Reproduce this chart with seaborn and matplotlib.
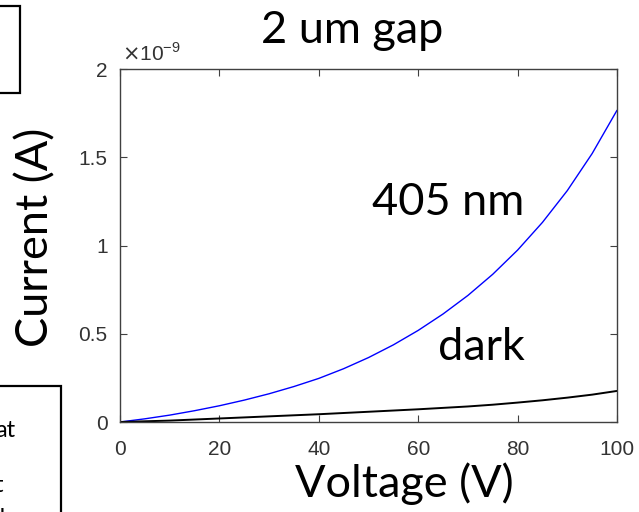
import numpy as np
import pandas as pd
import matplotlib
matplotlib.use("Agg")
import matplotlib.pyplot as plt
from matplotlib.patches import Rectangle
from matplotlib.ticker import FuncFormatter
import seaborn as sns

# Voltage sweep (V)
voltage = [0, 5, 10, 15, 20, 25, 30, 35, 40, 45, 50,
           55, 60, 65, 70, 75, 80, 85, 90, 95, 100]
# Current under 405 nm illumination (units of 1e-9 A)
current_405 = [0.0, 0.018, 0.039, 0.064, 0.092, 0.124, 0.16, 0.201, 0.247, 0.302, 0.365,
               0.437, 0.519, 0.612, 0.717, 0.837, 0.974, 1.131, 1.311, 1.521, 1.766]
# Dark current (units of 1e-9 A)
current_dark = [0.0, 0.004, 0.008, 0.014, 0.02, 0.026, 0.032, 0.038, 0.044, 0.051, 0.058,
                0.065, 0.072, 0.08, 0.088, 0.098, 0.11, 0.123, 0.138, 0.155, 0.176]

x_ticks = [0, 20, 40, 60, 80, 100]
y_ticks = [0, 0.5, 1, 1.5, 2]
scale = 1e-9

df = pd.DataFrame({
    "Voltage": voltage * 2,
    "Current": np.array(current_405 + current_dark) * scale,
    "Condition": ["405 nm"] * len(voltage) + ["dark"] * len(voltage),
})

sns.set_theme(style="white")
plt.rcParams["font.family"] = ["Liberation Sans", "DejaVu Sans"]

W, H = 639, 512
fig = plt.figure(figsize=(W / 100, H / 100), dpi=100)
ax = fig.add_axes([120 / W, 1 - 422 / H, (617 - 120) / W, (422 - 69) / H])

sns.lineplot(data=df, x="Voltage", y="Current", hue="Condition",
             palette={"405 nm": "#0000ff", "dark": "#000000"},
             ax=ax, legend=False, estimator=None, sort=False)
ax.lines[0].set_linewidth(1.0)
ax.lines[1].set_linewidth(1.4)

ax.set_xlim(0, 100)
ax.set_ylim(0, 2 * scale)
ax.set_xticks(x_ticks)
ax.set_yticks([t * scale for t in y_ticks])
ax.yaxis.set_major_formatter(FuncFormatter(lambda v, _: f"{v / scale:g}"))
ax.set_xlabel("")
ax.set_ylabel("")

spine_col = "#404040"
for s in ax.spines.values():
    s.set_visible(True)
    s.set_color(spine_col)
    s.set_linewidth(1.0)
ax.tick_params(direction="in", length=5, width=0.8, color=spine_col,
               labelsize=15, labelcolor="#333333",
               top=True, right=True, bottom=True, left=True)
ax.tick_params(axis="x", pad=13)
ax.tick_params(axis="y", pad=9)

ax.text(0.005, 1.012, r"$\times$10$^{\mathregular{-9}}$", transform=ax.transAxes,
        fontsize=15, color="#333333", ha="left", va="bottom")

big = ["Lato", "DejaVu Sans"]
fs = 32.5
fig.text(352 / W, 1 - 43 / H, "2 um gap", family=big, fontsize=fs,
         ha="center", va="baseline", color="black")
fig.text(404 / W, 1 - 497 / H, "Voltage (V)", family=big, fontsize=fs,
         ha="center", va="baseline", color="black")
fig.text(48 / W, 1 - 237 / H, "Current (A)", family=big, fontsize=fs,
         ha="center", va="baseline", rotation=90, rotation_mode="anchor",
         color="black")
fig.text(448 / W, 1 - 215 / H, "405 nm", family=big, fontsize=fs,
         ha="center", va="baseline", color="black")
fig.text(481 / W, 1 - 360 / H, "dark", family=big, fontsize=fs,
         ha="center", va="baseline", color="black")

# neighbouring slide boxes at the left edge
fig.patches.append(Rectangle((-5 / W, 1 - 93 / H), 25 / W, 87 / H,
                             transform=fig.transFigure, fill=False,
                             edgecolor="black", linewidth=1.6))
fig.patches.append(Rectangle((-5 / W, -10 / H), 66 / W, (10 + 512 - 386) / H,
                             transform=fig.transFigure, fill=False,
                             edgecolor="black", linewidth=1.6))
side = dict(family=big, fontsize=17, ha="right", va="baseline", color="black")
fig.text(15 / W, 1 - 437 / H, "at", **side)
fig.text(3 / W, 1 - 492 / H, "t", **side)
fig.text(18 / W, 1 - 525 / H, "de", **side)

fig.savefig("out.png", dpi=100)
